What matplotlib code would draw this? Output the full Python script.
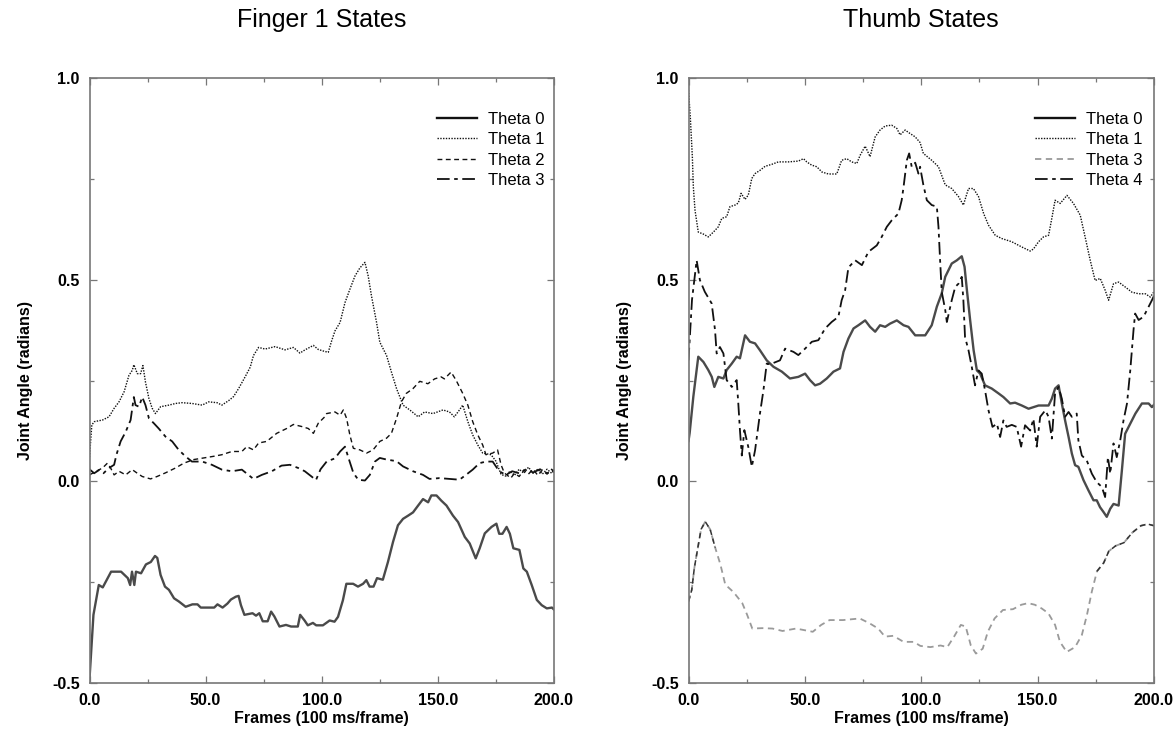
import matplotlib
matplotlib.use('Agg')
import matplotlib.pyplot as plt
from matplotlib.ticker import MultipleLocator, FormatStrFormatter

plt.rcParams['font.family'] = ['Liberation Sans', 'DejaVu Sans']

# ---------------- data: Finger 1 ----------------
f1_t0_x = [0, 1.7, 4.0, 5.7, 9.3, 13.6, 16.5, 17.5, 18.3, 19.3, 20.0, 22.2, 24.3, 26.4, 28.2, 29.2, 30.6, 32.5, 34.2, 36.4, 38.5, 41.4, 44.3, 46.5, 47.9, 53.7, 55.1, 57.3, 59.4, 60.9, 63.0, 64.2, 65.2, 66.7, 70.2, 71.7, 73.1, 74.6, 76.7, 78.2, 79.6, 81.8, 84.6, 86.8, 89.7, 90.7, 92.6, 94.0, 96.2, 97.6, 100.5, 103.4, 105.5, 107.0, 109.1, 110.6, 113.5, 115.6, 117.8, 119.2, 120.6, 122.3, 123.8, 126.3, 128.5, 130.7, 132.8, 135.0, 137.2, 139.3, 141.5, 143.6, 145.8, 147.2, 149.4, 151.5, 153.7, 156.5, 158.7, 161.6, 163.7, 166.3, 168.0, 170.2, 173.1, 175.2, 176.4, 177.8, 179.6, 181.0, 182.5, 185.1, 186.8, 188.3, 190.4, 192.6, 194.7, 196.9, 199.1, 200]
f1_t0_y = [-0.49, -0.331, -0.257, -0.263, -0.224, -0.224, -0.24, -0.257, -0.224, -0.257, -0.224, -0.228, -0.206, -0.2, -0.185, -0.19, -0.232, -0.261, -0.269, -0.29, -0.298, -0.311, -0.305, -0.305, -0.313, -0.313, -0.305, -0.313, -0.303, -0.293, -0.286, -0.284, -0.307, -0.331, -0.327, -0.333, -0.327, -0.347, -0.347, -0.323, -0.335, -0.36, -0.356, -0.36, -0.36, -0.331, -0.345, -0.357, -0.351, -0.357, -0.357, -0.345, -0.348, -0.336, -0.295, -0.254, -0.254, -0.261, -0.254, -0.245, -0.261, -0.261, -0.24, -0.244, -0.2, -0.15, -0.109, -0.093, -0.085, -0.077, -0.06, -0.044, -0.052, -0.035, -0.035, -0.048, -0.06, -0.085, -0.101, -0.138, -0.154, -0.191, -0.166, -0.129, -0.113, -0.105, -0.13, -0.13, -0.113, -0.13, -0.166, -0.17, -0.216, -0.224, -0.257, -0.294, -0.307, -0.315, -0.313, -0.318]

f1_t1_x = [0, 1, 2.1, 5.6, 8.4, 10.6, 12.7, 14.9, 17.0, 18.4, 19.1, 20.6, 22.0, 23.0, 24.1, 25.6, 27.0, 28.4, 30.6, 34.2, 37.0, 39.9, 44.2, 48.5, 51.3, 54.9, 57.0, 59.9, 62.0, 64.2, 67.0, 69.2, 70.6, 72.8, 75.6, 79.9, 84.2, 87.8, 90.6, 92.8, 96.4, 98.5, 101.3, 102.8, 104.3, 105.7, 107.9, 110.0, 112.1, 114.3, 116.4, 118.6, 120.0, 121.4, 123.6, 125.0, 127.9, 130.0, 132.2, 135.0, 137.9, 141.5, 144.3, 147.9, 152.2, 155.0, 157.1, 159.3, 160.7, 162.9, 165.0, 167.2, 169.3, 172.9, 175.0, 177.2, 179.3, 181, 183, 185, 187, 189, 191, 193, 195, 197, 199, 200]
f1_t1_y = [0.06, 0.14, 0.148, 0.152, 0.16, 0.181, 0.197, 0.222, 0.263, 0.275, 0.289, 0.267, 0.267, 0.287, 0.246, 0.205, 0.181, 0.168, 0.185, 0.189, 0.193, 0.195, 0.193, 0.189, 0.197, 0.195, 0.189, 0.2, 0.21, 0.23, 0.259, 0.283, 0.312, 0.332, 0.328, 0.334, 0.326, 0.332, 0.318, 0.326, 0.337, 0.327, 0.322, 0.32, 0.349, 0.373, 0.394, 0.443, 0.476, 0.509, 0.529, 0.543, 0.509, 0.46, 0.394, 0.345, 0.312, 0.271, 0.23, 0.189, 0.177, 0.16, 0.172, 0.168, 0.177, 0.172, 0.16, 0.177, 0.189, 0.148, 0.115, 0.09, 0.07, 0.066, 0.05, 0.017, 0.013, 0.025, 0.015, 0.03, 0.02, 0.035, 0.02, 0.03, 0.018, 0.03, 0.02, 0.028]

f1_t2_x = [0, 2.9, 5.6, 7.7, 9.1, 10.6, 12.7, 15.6, 18.4, 20.6, 22.7, 26.3, 29.1, 32.7, 37.0, 40.6, 44.9, 49.2, 53.4, 57.0, 61.3, 65.6, 67.7, 70.6, 72.8, 76.3, 80.6, 84.9, 87.8, 91.3, 94.2, 96.4, 98.5, 101.3, 102.1, 105.7, 107.9, 109.3, 110.7, 112.1, 113.6, 116.4, 119.3, 122.1, 125.0, 127.9, 130.0, 132.2, 134.3, 136.4, 139.3, 142.2, 145.7, 148.6, 151.4, 152.8, 155.7, 157.9, 160.7, 162.9, 165.0, 167.2, 169.3, 170.7, 173.6, 175.7, 177.2, 178.6, 181.4, 183, 185, 187, 189, 191, 193, 195, 197, 199, 200]
f1_t2_y = [0.016, 0.025, 0.033, 0.045, 0.033, 0.016, 0.025, 0.016, 0.029, 0.02, 0.012, 0.006, 0.012, 0.021, 0.033, 0.045, 0.054, 0.058, 0.062, 0.066, 0.074, 0.074, 0.086, 0.078, 0.095, 0.099, 0.119, 0.131, 0.141, 0.136, 0.131, 0.119, 0.144, 0.16, 0.168, 0.172, 0.164, 0.177, 0.156, 0.115, 0.082, 0.078, 0.07, 0.078, 0.099, 0.107, 0.119, 0.156, 0.197, 0.218, 0.23, 0.248, 0.242, 0.254, 0.259, 0.254, 0.271, 0.25, 0.218, 0.189, 0.148, 0.115, 0.09, 0.066, 0.07, 0.078, 0.041, 0.021, 0.008, 0.02, 0.012, 0.028, 0.018, 0.03, 0.015, 0.028, 0.018, 0.03, 0.022]

f1_t3_x = [0, 2, 4.1, 6, 8.4, 10.6, 11.6, 13.4, 15.6, 17.7, 19.1, 19.8, 21.3, 22.7, 24.1, 25.6, 27.7, 29.8, 32.7, 35.6, 38.4, 41.3, 44.1, 48.5, 52.7, 57.0, 61.3, 65.6, 68.4, 70.6, 74.2, 78.5, 82.7, 86.3, 89.9, 92.7, 95.6, 97.5, 99.5, 102.1, 105.7, 107.9, 110.0, 111.4, 113.6, 115.7, 118.6, 120.7, 122.9, 125.0, 127.9, 132.2, 135.0, 139.3, 143.6, 146.4, 150.7, 155.0, 159.3, 162.1, 165.0, 167.9, 170.7, 173.6, 176.4, 179.3, 182, 185, 188, 191, 194, 197, 200]
f1_t3_y = [0.03, 0.02, 0.028, 0.02, 0.033, 0.041, 0.066, 0.099, 0.123, 0.152, 0.209, 0.189, 0.185, 0.209, 0.189, 0.156, 0.144, 0.131, 0.111, 0.099, 0.078, 0.062, 0.049, 0.049, 0.041, 0.029, 0.025, 0.029, 0.016, 0.006, 0.016, 0.025, 0.039, 0.041, 0.033, 0.025, 0.012, 0.003, 0.03, 0.049, 0.057, 0.074, 0.086, 0.06, 0.021, 0.004, 0.002, 0.016, 0.049, 0.058, 0.054, 0.05, 0.037, 0.025, 0.016, 0.006, 0.008, 0.006, 0.004, 0.016, 0.029, 0.045, 0.049, 0.049, 0.025, 0.016, 0.025, 0.02, 0.03, 0.022, 0.03, 0.02, 0.028]

# ---------------- data: Thumb ----------------
th_t0_x = [0, 0.5, 2.08, 4.2, 6.4, 8.5, 10.0, 11.1, 12.8, 15.0, 16.4, 18.6, 20.7, 22.1, 24.3, 26.4, 28.6, 30.7, 33.6, 36.5, 40.1, 43.6, 47.2, 50.1, 52.2, 54.4, 56.5, 59.4, 62.3, 65.1, 66.6, 68.7, 70.9, 73.0, 75.9, 78.0, 80.2, 82.3, 84.5, 86.6, 89.5, 92.4, 94.5, 97.4, 101.7, 104.5, 106.7, 108.8, 110.3, 113.1, 115.3, 117.4, 118.6, 119.6, 121.0, 122.5, 123.9, 125.3, 127.4, 130.3, 133.2, 135.3, 138.2, 140.3, 143.2, 146.1, 150.4, 154.7, 156.1, 157.5, 159.0, 160.4, 161.8, 163.3, 164.7, 166.1, 167.5, 169.7, 171.8, 174.0, 175.4, 176.8, 178.3, 179.7, 181.2, 182.6, 184.8, 186.2, 187.6, 189.8, 192.0, 194.8, 197.7, 199.1, 200]
th_t0_y = [0.1, 0.12, 0.21, 0.309, 0.296, 0.276, 0.259, 0.234, 0.259, 0.255, 0.276, 0.292, 0.309, 0.305, 0.362, 0.346, 0.342, 0.325, 0.3, 0.284, 0.272, 0.255, 0.259, 0.267, 0.251, 0.238, 0.242, 0.255, 0.272, 0.28, 0.321, 0.354, 0.379, 0.387, 0.399, 0.383, 0.371, 0.387, 0.383, 0.391, 0.399, 0.387, 0.383, 0.362, 0.362, 0.387, 0.433, 0.466, 0.507, 0.54, 0.548, 0.558, 0.532, 0.475, 0.4, 0.325, 0.275, 0.267, 0.238, 0.23, 0.218, 0.209, 0.193, 0.195, 0.188, 0.18, 0.188, 0.188, 0.205, 0.23, 0.238, 0.193, 0.151, 0.11, 0.069, 0.04, 0.036, 0.003, -0.022, -0.047, -0.047, -0.064, -0.076, -0.088, -0.068, -0.056, -0.06, 0.027, 0.118, 0.143, 0.168, 0.193, 0.193, 0.184, 0.19]

th_t1_x = [0, 0.8, 1.65, 2.08, 2.8, 4.2, 6.4, 8.5, 10.7, 12.8, 14.3, 16.4, 17.8, 20.0, 21.4, 22.6, 24.3, 25.7, 27.2, 28.6, 30.7, 32.9, 35.8, 38.6, 42.9, 47.2, 49.4, 50.8, 52.9, 55.1, 57.3, 60.1, 63.7, 65.8, 68.0, 70.1, 72.3, 73.7, 75.9, 78.0, 80.2, 82.3, 84.5, 87.3, 89.5, 90.9, 93.1, 94.5, 97.4, 99.5, 100.9, 104.5, 107.4, 110.3, 113.1, 116.0, 118.1, 120.3, 122.4, 124.6, 126.8, 128.9, 131.8, 134.6, 138.9, 143.2, 146.8, 148.2, 150.4, 152.5, 154.7, 156.1, 157.5, 159.7, 162.6, 165.4, 168.3, 170.4, 172.6, 174.7, 176.9, 179.0, 180.5, 182.6, 184.8, 187.6, 190.5, 193.4, 196.3, 198.4, 200]
th_t1_y = [0.97, 0.9, 0.805, 0.73, 0.672, 0.618, 0.613, 0.606, 0.618, 0.631, 0.652, 0.656, 0.681, 0.685, 0.69, 0.714, 0.699, 0.71, 0.751, 0.763, 0.771, 0.781, 0.786, 0.792, 0.792, 0.794, 0.8, 0.792, 0.784, 0.78, 0.767, 0.762, 0.762, 0.796, 0.8, 0.792, 0.788, 0.808, 0.831, 0.805, 0.854, 0.871, 0.881, 0.883, 0.875, 0.859, 0.871, 0.865, 0.854, 0.84, 0.813, 0.796, 0.78, 0.735, 0.726, 0.706, 0.685, 0.726, 0.726, 0.706, 0.664, 0.635, 0.61, 0.602, 0.594, 0.581, 0.571, 0.576, 0.594, 0.606, 0.61, 0.652, 0.697, 0.689, 0.709, 0.689, 0.66, 0.606, 0.548, 0.498, 0.503, 0.474, 0.449, 0.49, 0.494, 0.482, 0.469, 0.465, 0.465, 0.457, 0.47]

th_t3_x = [0, 1.4, 2.5, 4.0, 5.4, 7.2, 9.3, 11.5, 13.7, 15.8, 19.4, 23.1, 25.2, 27.4, 31.7, 36.1, 40.4, 46.2, 53.4, 57.0, 60.6, 66.4, 73.6, 77.8, 81.5, 84.4, 88.0, 92.4, 96.8, 99.6, 103.9, 108.3, 111.2, 114.1, 117.0, 119.1, 121.3, 123.5, 126.4, 128.6, 131.5, 135.1, 139.4, 143.0, 145.9, 148.8, 151.7, 154.6, 157.5, 159.6, 162.5, 166.1, 169.0, 171.2, 173.3, 175.5, 178.4, 180.6, 183.5, 187.1, 190.7, 194.4, 197.3, 200]
th_t3_y = [-0.298, -0.269, -0.215, -0.165, -0.119, -0.1, -0.119, -0.165, -0.206, -0.256, -0.275, -0.302, -0.331, -0.365, -0.364, -0.365, -0.371, -0.365, -0.373, -0.356, -0.344, -0.344, -0.34, -0.352, -0.365, -0.385, -0.383, -0.398, -0.398, -0.408, -0.411, -0.407, -0.411, -0.385, -0.356, -0.36, -0.407, -0.427, -0.415, -0.373, -0.34, -0.319, -0.317, -0.306, -0.302, -0.306, -0.315, -0.327, -0.356, -0.398, -0.423, -0.411, -0.381, -0.331, -0.273, -0.223, -0.202, -0.173, -0.16, -0.152, -0.127, -0.11, -0.106, -0.11]

th_t4_x = [0, 1.5, 3.5, 4.9, 7, 9.96, 11.4, 12.1, 13.5, 15.0, 16.4, 18.6, 20.7, 21.4, 22.1, 22.9, 24.0, 25.7, 27.2, 28.6, 30.7, 32.2, 33.6, 35.0, 39.3, 41.5, 45.1, 47.2, 50.1, 53.0, 55.8, 58.7, 61.5, 64.4, 65.8, 67.3, 68.7, 71.6, 74.5, 77.3, 80.9, 83.0, 85.2, 87.3, 90.2, 91.6, 92.4, 93.8, 94.8, 95.9, 97.4, 98.8, 99.5, 100.9, 102.4, 104.5, 106.7, 107.4, 108.1, 108.8, 110.3, 111.0, 113.1, 114.6, 116.0, 117.4, 118.1, 118.8, 120.3, 121.7, 123.1, 124.6, 126.0, 127.4, 128.9, 130.6, 132.5, 133.9, 135.3, 136.7, 138.9, 141.0, 142.9, 144.6, 146.8, 148.2, 149.6, 151.1, 153.3, 154.7, 156.1, 157.5, 159.0, 160.4, 161.8, 163.3, 164.7, 166.8, 167.5, 169.0, 171.1, 173.3, 175.4, 177.6, 179.0, 180.2, 181.2, 182.6, 184.0, 185.5, 186.9, 188.4, 189.8, 191.2, 191.9, 193.4, 195.5, 197.7, 199.1, 200]
th_t4_y = [0.3, 0.45, 0.548, 0.499, 0.47, 0.441, 0.375, 0.317, 0.333, 0.317, 0.251, 0.234, 0.251, 0.193, 0.127, 0.064, 0.127, 0.085, 0.036, 0.077, 0.168, 0.226, 0.292, 0.29, 0.3, 0.329, 0.321, 0.313, 0.329, 0.346, 0.35, 0.379, 0.395, 0.408, 0.449, 0.474, 0.53, 0.548, 0.536, 0.569, 0.585, 0.606, 0.631, 0.647, 0.664, 0.697, 0.73, 0.796, 0.813, 0.78, 0.79, 0.763, 0.78, 0.735, 0.697, 0.685, 0.681, 0.631, 0.548, 0.47, 0.425, 0.395, 0.449, 0.482, 0.49, 0.507, 0.449, 0.358, 0.325, 0.284, 0.238, 0.275, 0.267, 0.226, 0.176, 0.135, 0.143, 0.11, 0.151, 0.135, 0.14, 0.135, 0.086, 0.139, 0.126, 0.155, 0.086, 0.16, 0.176, 0.16, 0.106, 0.218, 0.234, 0.205, 0.16, 0.172, 0.16, 0.168, 0.102, 0.064, 0.052, 0.019, -0.002, -0.014, -0.039, 0.06, 0.019, 0.094, 0.06, 0.102, 0.151, 0.193, 0.275, 0.375, 0.416, 0.4, 0.408, 0.433, 0.449, 0.46]

titles = ["Finger 1 States", "Thumb States"]
f1_labels = ["Theta 0", "Theta 1", "Theta 2", "Theta 3"]
th_labels = ["Theta 0", "Theta 1", "Theta 3", "Theta 4"]
x_label = "Frames (100 ms/frame)"
y_label = "Joint Angle (radians)"

# ---------------- styles ----------------
solid = dict(color='#4a4a4a', lw=1.7, ls='-')
dotted = dict(color='#111111', lw=1.0, ls=(0, (1, 1)))
dashed_k = dict(color='#111111', lw=1.0, ls=(0, (3.5, 2.5)))
dashed_g = dict(color='#9a9a9a', lw=1.3, ls=(0, (3.5, 2.5)))
dashdot = dict(color='#111111', lw=1.3, ls=(0, (7, 2.5, 2, 2.5)))

fig = plt.figure(figsize=(11.76, 7.30), dpi=100)
W, H = 1176.0, 730.0
ax1 = fig.add_axes([89.5 / W, 47 / H, 464.5 / W, 605 / H])
ax2 = fig.add_axes([688.5 / W, 47 / H, 465.5 / W, 605 / H])

ax1.plot(f1_t0_x, f1_t0_y, label=f1_labels[0], **solid)
ax1.plot(f1_t1_x, f1_t1_y, label=f1_labels[1], **dotted)
ax1.plot(f1_t2_x, f1_t2_y, label=f1_labels[2], **dashed_k)
ax1.plot(f1_t3_x, f1_t3_y, label=f1_labels[3], **dashdot)

ax2.plot(th_t0_x, th_t0_y, label=th_labels[0], **solid)
ax2.plot(th_t1_x, th_t1_y, label=th_labels[1], **dotted)
ax2.plot(th_t3_x, th_t3_y, label=th_labels[2], **dashed_g)
# darker ends of the Theta 3 trace, as in the scanned original
n_head = sum(1 for v in th_t3_x if v <= 11.5)
n_tail = sum(1 for v in th_t3_x if v >= 175.5)
ax2.plot(th_t3_x[:n_head], th_t3_y[:n_head], color='#333333', lw=1.1, ls=(0, (3.5, 2.5)))
ax2.plot(th_t3_x[-n_tail:], th_t3_y[-n_tail:], color='#333333', lw=1.1, ls=(0, (3.5, 2.5)))
ax2.plot(th_t4_x, th_t4_y, label=th_labels[3], **dashdot)

for ax, title, lx in [(ax1, titles[0], 0.748), (ax2, titles[1], 0.744)]:
    ax.set_xlim(0, 200)
    ax.set_ylim(-0.5, 1.0)
    ax.xaxis.set_major_locator(MultipleLocator(50))
    ax.xaxis.set_minor_locator(MultipleLocator(25))
    ax.yaxis.set_major_locator(MultipleLocator(0.5))
    ax.yaxis.set_minor_locator(MultipleLocator(0.25))
    ax.xaxis.set_major_formatter(FormatStrFormatter('%.1f'))
    ax.yaxis.set_major_formatter(FormatStrFormatter('%.1f'))
    ax.tick_params(which='both', direction='in', top=True, right=True,
                   color='#777777', width=0.9)
    ax.tick_params(which='major', length=5, labelsize=11.5, pad=7)
    ax.tick_params(which='minor', length=3)
    for lab in ax.get_xticklabels() + ax.get_yticklabels():
        lab.set_fontweight('bold')
    for sp in ax.spines.values():
        sp.set_color('#777777')
        sp.set_linewidth(1.2)
    ax.set_xlabel(x_label, fontsize=11.5, fontweight='bold', labelpad=2)
    ax.set_ylabel(y_label, fontsize=11.5, fontweight='bold', labelpad=14)
    pos = ax.get_position()
    fig.text((pos.x0 + pos.x1) / 2, 1 - 20 / H, title, fontsize=18,
             ha='center', va='center')
    leg = ax.legend(loc='upper left', bbox_to_anchor=(lx, 0.944), frameon=False,
                    fontsize=12, handlelength=2.4, handletextpad=0.65,
                    labelspacing=0.32, borderpad=0, borderaxespad=0)
    leg.get_lines()[0].set_color('#111111')

fig.savefig('out.png', dpi=100)
